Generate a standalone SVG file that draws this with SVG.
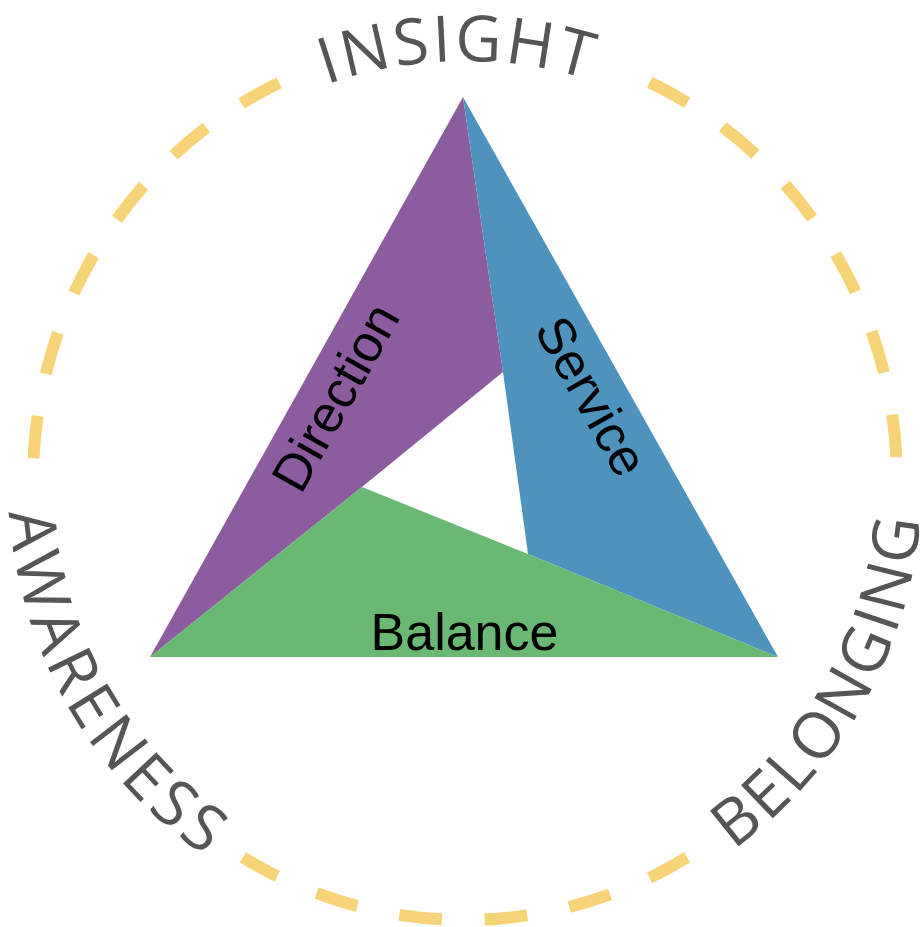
<svg xmlns="http://www.w3.org/2000/svg" xmlns:xlink="http://www.w3.org/1999/xlink" width="924" height="927" viewBox="0 0 924 927">
  <defs>
    <style>
      .ring { fill: none; stroke: #F7D378; stroke-width: 12; stroke-dasharray: 42.8 42.8; }
      .ringtext { font-family: "Open Sans", "DejaVu Sans", sans-serif; font-size: 64px; fill: #555555; }
      .label { font-family: "Liberation Sans", Arial, sans-serif; font-size: 52px; fill: #000000; text-anchor: middle; }
    </style>
    <path id="pInsight" d="M46,480 A419,419 0 0 1 884,480"/>
    <path id="pAwareness" d="M69.2,251.5 A457,457 0 0 0 465,937"/>
    <path id="pBelonging" d="M465,937 A457,457 0 0 0 860.8,251.5"/>
  </defs>
  <rect width="924" height="927" fill="#ffffff"/>

  <g id="ring">
    <path class="ring" d="M33.52,458.41 A432,440 0 0 1 280.29,82.24"/>
    <path class="ring" d="M649.71,82.24 A432,440 0 0 1 896.48,458.41"/>
    <path class="ring" d="M687.09,857.40 A432,440 0 0 1 242.91,857.40"/>
  </g>

  <g id="insight">
    <text class="ringtext" letter-spacing="3"><textPath xlink:href="#pInsight" href="#pInsight" startOffset="651" text-anchor="middle">INSIGHT</textPath></text>
  </g>
  <g id="awareness">
    <text class="ringtext" letter-spacing="5"><textPath xlink:href="#pAwareness" href="#pAwareness" startOffset="50%" text-anchor="middle">AWARENESS</textPath></text>
  </g>
  <g id="belonging">
    <text class="ringtext" letter-spacing="3"><textPath xlink:href="#pBelonging" href="#pBelonging" startOffset="484" text-anchor="middle">BELONGING</textPath></text>
  </g>

  <g id="direction">
    <polygon points="463,97 503,372 362,487 150,657" fill="#8C5D9E"/>
    <text class="label" transform="translate(351,406) rotate(-60.8)">Direction</text>
  </g>
  <g id="service">
    <polygon points="463,97 778,657 528,554 503,372" fill="#4E93BD"/>
    <text class="label" transform="translate(576,405) rotate(60.6)">Service</text>
  </g>
  <g id="balance">
    <polygon points="150,657 362,487 528,554 778,657" fill="#69B874"/>
    <text class="label" x="464.5" y="650">Balance</text>
  </g>
</svg>
